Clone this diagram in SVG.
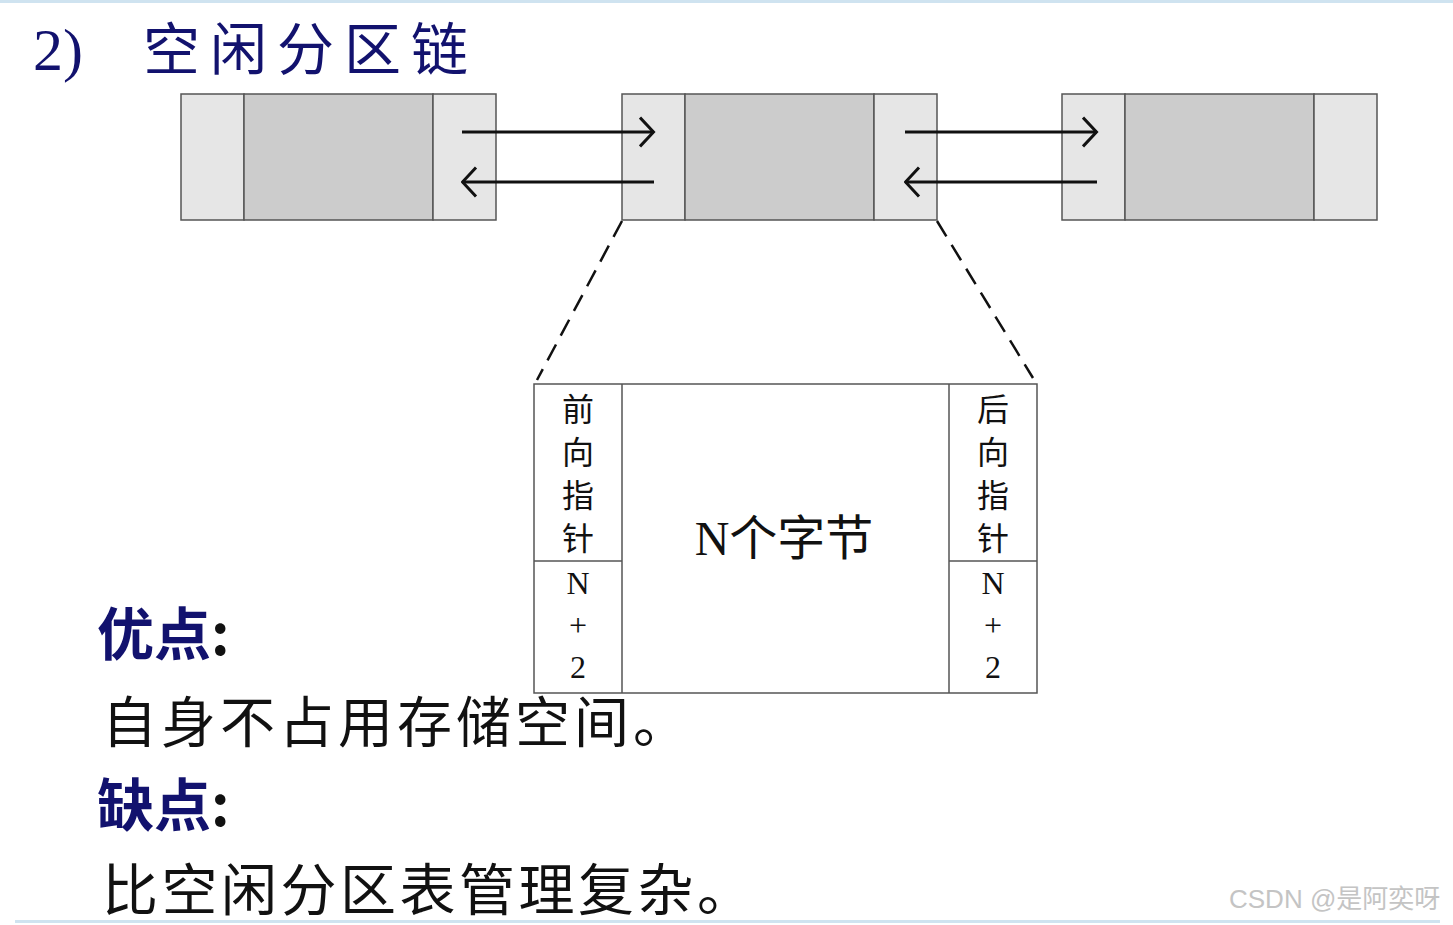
<svg xmlns="http://www.w3.org/2000/svg" width="1453" height="925" viewBox="0 0 1453 925">
<defs>
<style>
.cell{fill:#e6e6e6;stroke:#555;stroke-width:1.5}
.mid{fill:#cccccc;stroke:#555;stroke-width:1.5}
.ln{stroke:#111;stroke-width:3;fill:none}
.dash{stroke:#111;stroke-width:2.5;fill:none;stroke-dasharray:18,10}
.box{fill:#fff;stroke:#555;stroke-width:1.5}
.cj{font-family:"Noto Sans CJK SC","Liberation Serif",serif;fill:#111}
.nav{font-family:"Noto Sans CJK SC",sans-serif;fill:#12126e}
.vt{font-family:"Liberation Serif","Noto Sans CJK SC",serif;font-size:32px;fill:#111;text-anchor:middle}
</style>
<marker id="ah" viewBox="0 0 17 32" refX="15.5" refY="16" markerWidth="17" markerHeight="32" markerUnits="userSpaceOnUse" orient="auto">
<path d="M1.5,1.5 L15,16 L1.5,30.5" fill="none" stroke="#111" stroke-width="3"/>
</marker>
</defs>
<rect width="1453" height="925" fill="#fff"/>
<line x1="0" y1="1.5" x2="1453" y2="1.5" stroke="#cfe3f0" stroke-width="3"/>
<line x1="15" y1="921.5" x2="1440" y2="921.5" stroke="#cfe3f0" stroke-width="3"/>
<text x="33" y="70" font-size="60" fill="#12126e" style="font-family:'Liberation Serif',serif">2)</text>
<text class="nav" x="143" y="70" font-size="57" letter-spacing="10">空闲分区链</text>
<g id="node1">
<rect class="cell" x="181" y="94" width="63" height="126"/>
<rect class="mid" x="244" y="94" width="189" height="126"/>
<rect class="cell" x="433" y="94" width="63" height="126"/>
</g>
<g id="node2">
<rect class="cell" x="622" y="94" width="63" height="126"/>
<rect class="mid" x="685" y="94" width="189" height="126"/>
<rect class="cell" x="874" y="94" width="63" height="126"/>
</g>
<g id="node3">
<rect class="cell" x="1062" y="94" width="63" height="126"/>
<rect class="mid" x="1125" y="94" width="189" height="126"/>
<rect class="cell" x="1314" y="94" width="63" height="126"/>
</g>
<g id="connectors">
<line class="ln" x1="462" y1="132" x2="654" y2="132" marker-end="url(#ah)"/>
<line class="ln" x1="654" y1="182" x2="462" y2="182" marker-end="url(#ah)"/>
<line class="ln" x1="905" y1="132" x2="1097" y2="132" marker-end="url(#ah)"/>
<line class="ln" x1="1097" y1="182" x2="905" y2="182" marker-end="url(#ah)"/>
<line class="dash" x1="622" y1="221" x2="537" y2="380"/>
<line class="dash" x1="937" y1="221" x2="1033" y2="378"/>
</g>
<g id="detail">
<rect class="box" x="534" y="384" width="503" height="309"/>
<line x1="622" y1="384" x2="622" y2="693" stroke="#555" stroke-width="1.5"/>
<line x1="949" y1="384" x2="949" y2="693" stroke="#555" stroke-width="1.5"/>
<line x1="534" y1="561" x2="622" y2="561" stroke="#555" stroke-width="1.5"/>
<line x1="949" y1="561" x2="1037" y2="561" stroke="#555" stroke-width="1.5"/>
<g class="vt">
<text x="578" y="421">前</text><text x="578" y="464">向</text><text x="578" y="507">指</text><text x="578" y="550">针</text>
<text x="578" y="594">N</text><text x="578" y="636">+</text><text x="578" y="678">2</text>
<text x="993" y="421">后</text><text x="993" y="464">向</text><text x="993" y="507">指</text><text x="993" y="550">针</text>
<text x="993" y="594">N</text><text x="993" y="636">+</text><text x="993" y="678">2</text>
</g>
<text x="784" y="555" font-size="48" text-anchor="middle" style="font-family:'Liberation Serif','Noto Sans CJK SC',serif" fill="#111">N个字节</text>
</g>
<text class="nav" x="97" y="655" font-size="57" font-weight="bold">优点<tspan fill="#111">:</tspan></text>
<text class="cj" x="102" y="742" font-size="55" letter-spacing="4">自身不占用存储空间。</text>
<text class="nav" x="97" y="826" font-size="57" font-weight="bold">缺点<tspan fill="#111">:</tspan></text>
<text class="cj" x="102" y="910" font-size="56" letter-spacing="3.5">比空闲分区表管理复杂。</text>
<text x="1229" y="908" font-size="26" fill="#c4c4c4" style="font-family:'Liberation Sans','Noto Sans CJK SC',sans-serif">CSDN @是阿奕呀</text>
</svg>
